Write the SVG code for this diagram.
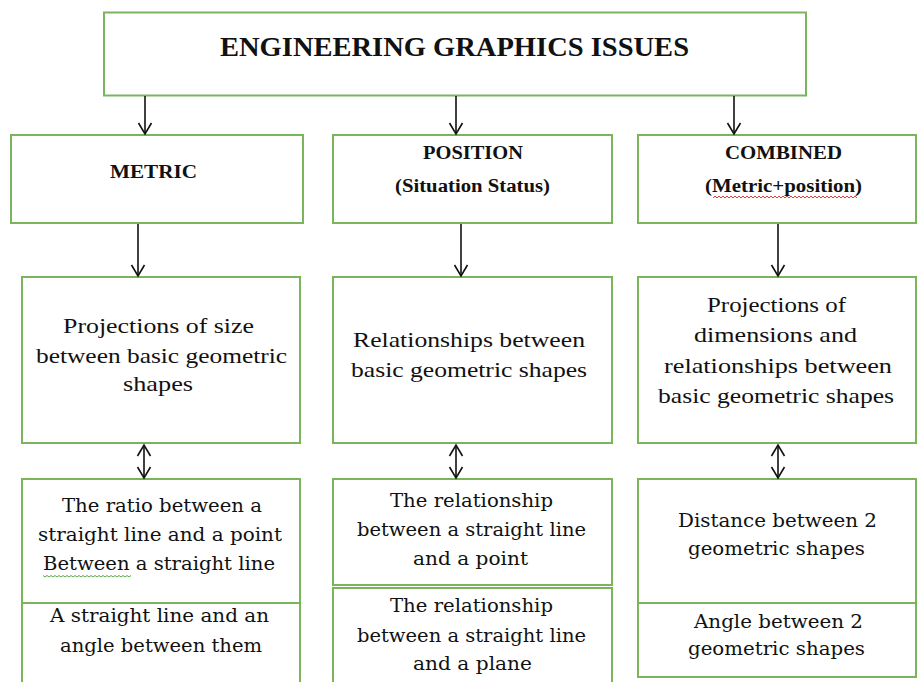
<svg xmlns="http://www.w3.org/2000/svg" width="917" height="682" viewBox="0 0 917 682">
  <defs>
    <style>
      .box { fill: #ffffff; stroke: #7ab55c; stroke-width: 2; }
      .div { stroke: #7ab55c; stroke-width: 2; fill: none; }
      .conn { stroke: #111111; stroke-width: 1.6; fill: none; }
      .title { font-family: "Liberation Serif", "Times New Roman", serif; font-weight: bold; font-size: 27px; fill: #111111; }
      .head { font-family: "Liberation Serif", "Times New Roman", serif; font-weight: bold; font-size: 18px; fill: #111111; }
      .mid { font-family: "Liberation Serif", "Times New Roman", serif; font-size: 22px; fill: #111111; }
      .low { font-family: "DejaVu Serif", "Liberation Serif", serif; font-size: 19px; fill: #111111; }
      .squig { fill: none; stroke-width: 1; }
    </style>
    <marker id="arrow" markerUnits="userSpaceOnUse" markerWidth="16" markerHeight="16" viewBox="-12 -8 14 16" refX="0" refY="0" orient="auto-start-reverse" overflow="visible">
      <path d="M-11,-6.5 L0,0 L-11,6.5" fill="none" stroke="#111111" stroke-width="1.6"/>
    </marker>
  </defs>

  <rect width="917" height="682" fill="#ffffff"/>

  <!-- top node -->
  <g id="issues">
    <rect class="box" x="104" y="12.5" width="702" height="83"/>
    <text class="title" x="220" y="56" textLength="469" lengthAdjust="spacingAndGlyphs">ENGINEERING GRAPHICS ISSUES</text>
  </g>

  <!-- category nodes -->
  <g id="metric">
    <rect class="box" x="11" y="135" width="292" height="88"/>
    <text class="head" x="110" y="178" textLength="87" lengthAdjust="spacingAndGlyphs">METRIC</text>
  </g>
  <g id="position">
    <rect class="box" x="333" y="135" width="279" height="88"/>
    <text class="head" x="423" y="159" textLength="100" lengthAdjust="spacingAndGlyphs">POSITION</text>
    <text class="head" x="395" y="192" textLength="155" lengthAdjust="spacingAndGlyphs">(Situation Status)</text>
  </g>
  <g id="combined">
    <rect class="box" x="638" y="135" width="278" height="88"/>
    <text class="head" x="725" y="159" textLength="117" lengthAdjust="spacingAndGlyphs">COMBINED</text>
    <text class="head" x="705" y="192" textLength="157" lengthAdjust="spacingAndGlyphs">(Metric+position)</text>
    <path class="squig" stroke="#e0403a" d="M713,198 l2,-2 l2,2 l2,-2 l2,2 l2,-2 l2,2 l2,-2 l2,2 l2,-2 l2,2 l2,-2 l2,2 l2,-2 l2,2 l2,-2 l2,2 l2,-2 l2,2 l2,-2 l2,2 l2,-2 l2,2 l2,-2 l2,2 l2,-2 l2,2 l2,-2 l2,2 l2,-2 l2,2 l2,-2 l2,2 l2,-2 l2,2 l2,-2 l2,2 l2,-2 l2,2 l2,-2 l2,2 l2,-2 l2,2 l2,-2 l2,2 l2,-2 l2,2 l2,-2 l2,2 l2,-2 l2,2 l2,-2 l2,2 l2,-2 l2,2 l2,-2 l2,2 l2,-2 l2,2 l2,-2 l2,2 l2,-2 l2,2 l2,-2 l2,2 l2,-2 l2,2 l2,-2 l2,2 l2,-2 l2,2 l2,-2 l2,2"/>
  </g>

  <!-- description nodes -->
  <g id="metric-desc">
    <rect class="box" x="22" y="277" width="278" height="166"/>
    <text class="mid" x="63" y="333" textLength="191" lengthAdjust="spacingAndGlyphs">Projections of size</text>
    <text class="mid" x="36" y="363" textLength="251" lengthAdjust="spacingAndGlyphs">between basic geometric</text>
    <text class="mid" x="123" y="391" textLength="70" lengthAdjust="spacingAndGlyphs">shapes</text>
  </g>
  <g id="position-desc">
    <rect class="box" x="333" y="277" width="279" height="166"/>
    <text class="mid" x="353" y="347" textLength="232" lengthAdjust="spacingAndGlyphs">Relationships between</text>
    <text class="mid" x="351" y="377" textLength="236" lengthAdjust="spacingAndGlyphs">basic geometric shapes</text>
  </g>
  <g id="combined-desc">
    <rect class="box" x="638" y="277" width="278" height="166"/>
    <text class="mid" x="707" y="312" textLength="139" lengthAdjust="spacingAndGlyphs">Projections of</text>
    <text class="mid" x="694" y="342" textLength="163" lengthAdjust="spacingAndGlyphs">dimensions and</text>
    <text class="mid" x="664" y="373" textLength="228" lengthAdjust="spacingAndGlyphs">relationships between</text>
    <text class="mid" x="658" y="403" textLength="236" lengthAdjust="spacingAndGlyphs">basic geometric shapes</text>
  </g>

  <!-- detail nodes -->
  <g id="metric-detail">
    <rect class="box" x="22" y="479" width="278" height="215"/>
    <line class="div" x1="22" y1="603" x2="300" y2="603"/>
    <text class="low" x="62" y="512" textLength="200" lengthAdjust="spacingAndGlyphs">The ratio between a</text>
    <text class="low" x="38" y="541" textLength="244" lengthAdjust="spacingAndGlyphs">straight line and a point</text>
    <text class="low" x="43" y="570" textLength="232" lengthAdjust="spacingAndGlyphs">Between a straight line</text>
    <path class="squig" stroke="#5aa84a" d="M43,575.5 l2,1.5 l2,-1.5 l2,1.5 l2,-1.5 l2,1.5 l2,-1.5 l2,1.5 l2,-1.5 l2,1.5 l2,-1.5 l2,1.5 l2,-1.5 l2,1.5 l2,-1.5 l2,1.5 l2,-1.5 l2,1.5 l2,-1.5 l2,1.5 l2,-1.5 l2,1.5 l2,-1.5 l2,1.5 l2,-1.5 l2,1.5 l2,-1.5 l2,1.5 l2,-1.5 l2,1.5 l2,-1.5 l2,1.5 l2,-1.5 l2,1.5 l2,-1.5 l2,1.5 l2,-1.5 l2,1.5 l2,-1.5 l2,1.5 l2,-1.5 l2,1.5 l2,-1.5 l2,1.5 l2,-1.5"/>
    <text class="low" x="50" y="622" textLength="219" lengthAdjust="spacingAndGlyphs">A straight line and an</text>
    <text class="low" x="60" y="652" textLength="202" lengthAdjust="spacingAndGlyphs">angle between them</text>
  </g>
  <g id="position-point">
    <rect class="box" x="333" y="479" width="279" height="106"/>
    <text class="low" x="390" y="507" textLength="163" lengthAdjust="spacingAndGlyphs">The relationship</text>
    <text class="low" x="357" y="536" textLength="229" lengthAdjust="spacingAndGlyphs">between a straight line</text>
    <text class="low" x="413" y="565" textLength="115" lengthAdjust="spacingAndGlyphs">and a point</text>
  </g>
  <g id="position-plane">
    <rect class="box" x="333" y="588" width="279" height="106"/>
    <text class="low" x="390" y="612" textLength="163" lengthAdjust="spacingAndGlyphs">The relationship</text>
    <text class="low" x="357" y="642" textLength="229" lengthAdjust="spacingAndGlyphs">between a straight line</text>
    <text class="low" x="413" y="670" textLength="119" lengthAdjust="spacingAndGlyphs">and a plane</text>
  </g>
  <g id="combined-detail">
    <rect class="box" x="638" y="479" width="278" height="198"/>
    <line class="div" x1="638" y1="603" x2="916" y2="603"/>
    <text class="low" x="678" y="527" textLength="199" lengthAdjust="spacingAndGlyphs">Distance between 2</text>
    <text class="low" x="688" y="555" textLength="177" lengthAdjust="spacingAndGlyphs">geometric shapes</text>
    <text class="low" x="694" y="628" textLength="169" lengthAdjust="spacingAndGlyphs">Angle between 2</text>
    <text class="low" x="688" y="655" textLength="177" lengthAdjust="spacingAndGlyphs">geometric shapes</text>
  </g>

  <!-- connectors -->
  <g id="connectors">
    <line class="conn" x1="145" y1="96" x2="145" y2="134" marker-end="url(#arrow)"/>
    <line class="conn" x1="456" y1="96" x2="456" y2="134" marker-end="url(#arrow)"/>
    <line class="conn" x1="734" y1="96" x2="734" y2="134" marker-end="url(#arrow)"/>
    <line class="conn" x1="138" y1="224" x2="138" y2="276" marker-end="url(#arrow)"/>
    <line class="conn" x1="461" y1="224" x2="461" y2="276" marker-end="url(#arrow)"/>
    <line class="conn" x1="778" y1="224" x2="778" y2="276" marker-end="url(#arrow)"/>
    <line class="conn" x1="144" y1="445" x2="144" y2="478" marker-start="url(#arrow)" marker-end="url(#arrow)"/>
    <line class="conn" x1="456" y1="445" x2="456" y2="478" marker-start="url(#arrow)" marker-end="url(#arrow)"/>
    <line class="conn" x1="778" y1="445" x2="778" y2="478" marker-start="url(#arrow)" marker-end="url(#arrow)"/>
  </g>
</svg>
